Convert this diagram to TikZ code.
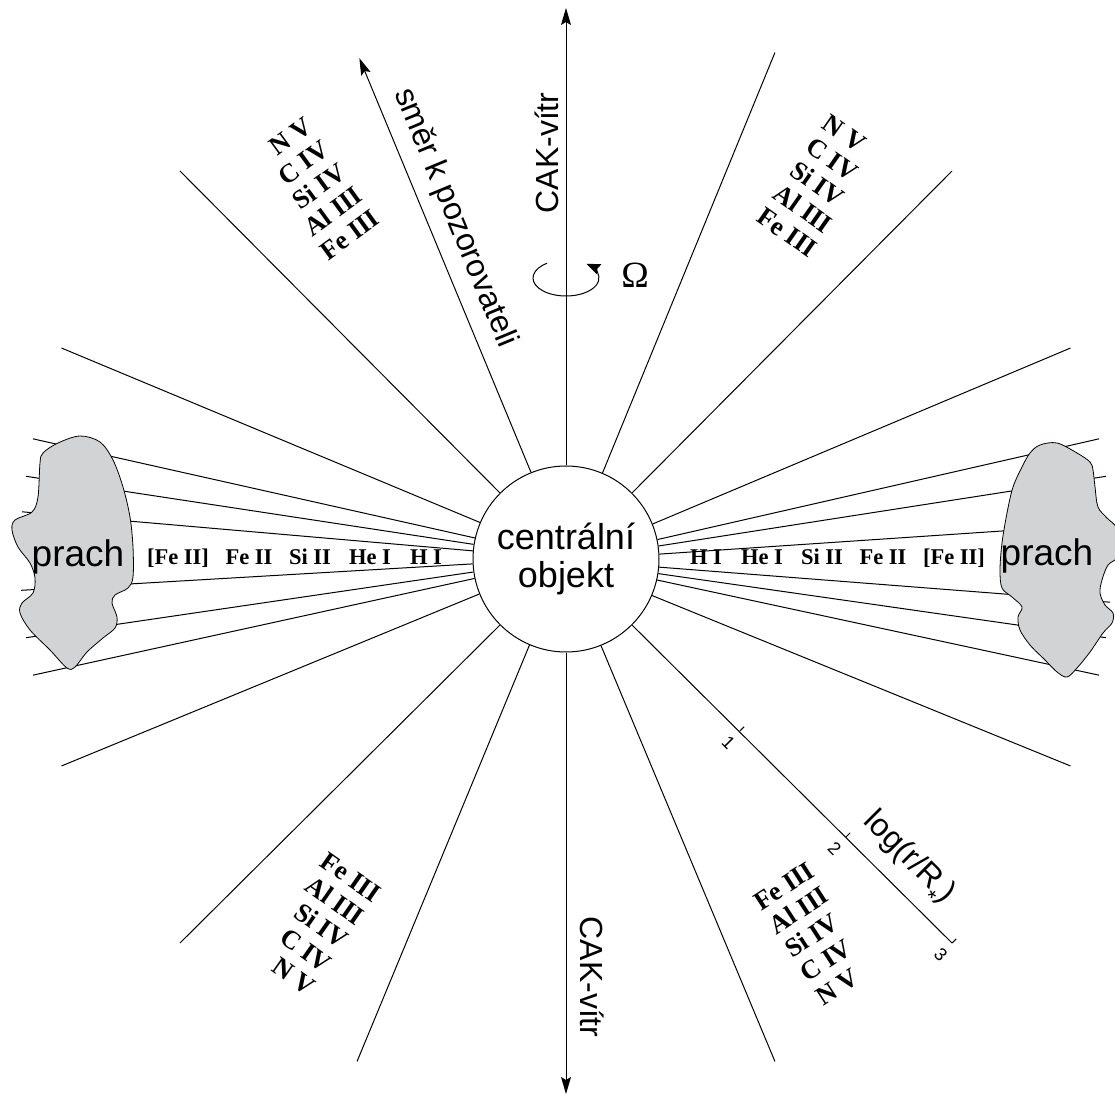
\documentclass[tikz,border=0pt]{standalone}
\usepackage{fontspec}
\setmainfont{Liberation Sans}
\newfontfamily\ionfont{Liberation Serif}
\usetikzlibrary{arrows.meta}
\definecolor{dustgray}{RGB}{209,211,212}
\newcommand{\setfs}[1]{\fontsize{#1}{#1}\selectfont}

\begin{document}
\begin{tikzpicture}[x=1pt,y=1pt,
  ray/.style={line width=1pt},
  axis/.style={line width=1pt,-{Stealth[length=17pt,width=10pt,inset=3pt]}},
  ion/.style={font=\ionfont\bfseries\setfs{22.5}, inner sep=0pt, anchor=base},
  stack/.style={font=\ionfont\bfseries\fontsize{26.5}{28.5}\selectfont, inner sep=0pt},
  lbl/.style={font=\setfs{32}, inner sep=0pt},
  dust/.style={draw, line width=0.8pt, fill=dustgray}]
\useasboundingbox (-566,-540) rectangle (549,557);

% star in the middle
\node[circle, draw, line width=1pt, minimum size=186pt, inner sep=0pt,
      align=center, font=\fontsize{36}{38}\selectfont] (obj) at (0,-2) {centrální\\objekt};

% rays every 22.5 deg
\foreach \a in {22.5,45,67.5,135,157.5,202.5,225,247.5,292.5,337.5}
  \draw[ray] (obj.\a) -- (\a:546);
% dense rays along the disc
\foreach \a in {3.5,8.5,12.5,355.25,351.5,347.5}{
  \pgfmathsetmacro\b{mod(\a+180,360)}
  \draw[ray] (obj.\a) -- (\a:546);
  \draw[ray] (obj.\b) -- (\b:546);
}

% rotation axis and line of sight
\draw[axis] (obj.90) -- (90:549);
\draw[axis] (obj.270) -- (270:537);
\draw[axis] (obj.112.5) -- (112.5:540);
\node[lbl, rotate=90] (cakN) at (-19,404) {CAK-vítr};
\node[lbl, rotate=-90] (cakS) at (26,-420) {CAK-vítr};
\node[lbl, rotate=-67.5] (obs) at (-111,339) {směr k pozorovateli};

\draw[line width=1pt, -{Stealth[length=14pt,width=11pt,inset=2pt]}]
  (0,279) ++(125:33 and 18) arc[start angle=125, end angle=412, x radius=33, y radius=18];
\node[font=\ionfont\setfs{37}, inner sep=0pt] (omega) at (69,282) {Ω};

% log scale
\draw[ray] (obj.315) -- (315:546);
\foreach \k/\r in {1/246,2/396,3/546}{
  \draw[ray] (315:\r) -- ++(45:6);
  \node[font=\setfs{18}, rotate=-45, inner sep=0pt] (tick\k) at ([shift={(225:16)}]315:\r) {\k};
}
\node[lbl, rotate=-45] (logr) at (341,-303) {log(r/R\raisebox{-0.4em}{\setfs{22}*})};

% dust
\draw[dust] plot[smooth cycle, tension=0.55] coordinates {
  (-486,121) (-508,114) (-523,104) (-526,94) (-528,60) (-534,45) (-551,37)
  (-554,27) (-548,10) (-536,-6) (-531,-21) (-533,-36) (-544,-46) (-546,-56)
  (-536,-73) (-516,-93) (-499,-111) (-491,-110) (-479,-95) (-463,-81)
  (-451,-71) (-449,-60) (-454,-46) (-451,-38) (-438,-31) (-433,-20)
  (-433,10) (-436,40) (-443,70) (-453,97) (-466,115)};
\draw[dust] plot[smooth cycle, tension=0.55] coordinates {
  (474,112) (491,114) (511,104) (524,95) (527,87) (529,70) (532,50) (541,39)
  (551,28) (553,2) (542,-8) (536,-23) (534,-36) (539,-48) (547,-56)
  (546,-66) (537,-76) (524,-95) (511,-111) (501,-120) (491,-115) (479,-103)
  (464,-88) (454,-73) (452,-60) (456,-50) (446,-40) (436,-31) (434,-13)
  (436,14) (441,44) (447,70) (456,90) (464,104)};
\node[font=\setfs{37}, inner sep=0pt] (prachL) at (-488,0) {prach};
\node[font=\setfs{37}, inner sep=0pt] (prachR) at (481,1) {prach};

% ions in the disc
\foreach \t/\x [count=\i] in {H I/140, He I/196, Si II/256, Fe II/317, {[Fe II]}/388}{
  \node[ion] (ionR\i) at (\x,-7) {\t};
  \node[ion] (ionL\i) at (-\x,-7) {\t};
}

% ions in the polar wind
\node[stack, rotate=36, align=right] (stTL) at (-250,368) {N V\\C IV\\Si IV\\Al III\\Fe III};
\node[stack, rotate=-35, align=left] (stTR) at (254,371) {N V\\C IV\\Si IV\\Al III\\Fe III};
\node[stack, rotate=-35, align=right] (stBL) at (-248,-367) {Fe III\\Al III\\Si IV\\C IV\\N V};
\node[stack, rotate=33, align=left] (stBR) at (249,-377) {Fe III\\Al III\\Si IV\\C IV\\N V};
\end{tikzpicture}
\end{document}
